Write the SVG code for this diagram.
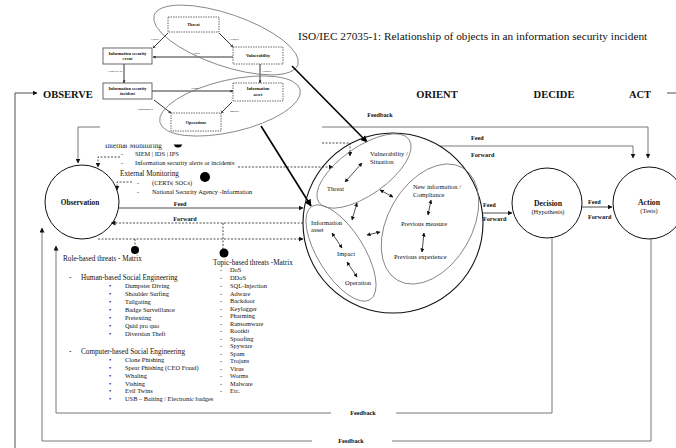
<svg xmlns="http://www.w3.org/2000/svg" width="676" height="448" viewBox="0 0 676 448">
<style>
text{font-family:"Liberation Serif","Times New Roman",serif;fill:#111}
.h{font-size:10.5px;font-weight:bold}
.b{font-weight:bold}
.ln{fill:none;stroke:#222;stroke-width:0.8}
.gl{fill:none;stroke:#555;stroke-width:0.8}
.ds{fill:none;stroke:#222;stroke-width:0.8;stroke-dasharray:2,1.5}
.th{fill:none;stroke:#000;stroke-width:1.6}
.el{fill:none;stroke:#777;stroke-width:0.8}
.bx{fill:#fff;stroke:#444;stroke-width:0.8}
.bxd{fill:#fff;stroke:#444;stroke-width:0.8;stroke-dasharray:1.5,1}
.il{fill:none;stroke:#333;stroke-width:1}
.t5{font-size:4.3px;font-weight:bold;text-anchor:middle}
.t3{font-size:2.8px}
.o{font-size:6.5px}
.m{font-size:7.2px}
.li{font-size:6.4px}
.lb{font-size:6.2px;font-weight:bold}
</style>
<defs>
<marker id="a" viewBox="0 0 10 10" refX="9" refY="5" markerWidth="5" markerHeight="5" markerUnits="userSpaceOnUse" orient="auto-start-reverse"><path d="M0,0L10,5L0,10z" fill="#111"/></marker>
<marker id="a2" viewBox="0 0 10 10" refX="9" refY="5" markerWidth="4" markerHeight="4" markerUnits="userSpaceOnUse" orient="auto-start-reverse"><path d="M0,0L10,5L0,10z" fill="#111"/></marker>
<marker id="ab" viewBox="0 0 10 10" refX="9" refY="5" markerWidth="7" markerHeight="7" markerUnits="userSpaceOnUse" orient="auto-start-reverse"><path d="M0,0L10,5L0,10z" fill="#000"/></marker>
<marker id="as" viewBox="0 0 10 10" refX="9" refY="5" markerWidth="3" markerHeight="3" markerUnits="userSpaceOnUse" orient="auto-start-reverse"><path d="M0,0L10,5L0,10z" fill="#333"/></marker>
</defs>
<rect width="676" height="448" fill="#fff"/>

<g id="headings">
<text class="h" x="43" y="97.5">OBSERVE</text>
<text class="h" x="437" y="97.5" text-anchor="middle">ORIENT</text>
<text class="h" x="554" y="97.5" text-anchor="middle">DECIDE</text>
<text class="h" x="640" y="97.5" text-anchor="middle">ACT</text>
</g>

<g id="connectors">
<path class="ln" d="M15,448V93H37" marker-end="url(#a)"/>
<path class="ln" d="M667,93H676"/>
<path class="gl" d="M78,163V127H648V158" marker-start="url(#a)" marker-end="url(#a)"/>
<path class="gl" d="M440,146H633V158" marker-end="url(#a)"/>
<path class="ln" d="M119,208H303" marker-end="url(#a)"/>
<path class="ds" d="M303,223H111" marker-end="url(#a)"/>
<path class="ds" d="M98,239H303" marker-end="url(#a)"/>
<path class="ds" d="M135,239V247"/>
<path class="ds" d="M223,223V249"/>
<path class="ds" d="M120,157H98V167" marker-end="url(#a)"/>
<path class="ds" d="M238,167H333" marker-end="url(#a)"/>
<path class="ds" d="M132,182H117V190" marker-end="url(#a)"/>
<path class="ln" d="M483,213H512" marker-end="url(#a)"/>
<path class="ln" d="M582,207H612" marker-end="url(#a)"/>
<path class="gl" d="M552,238V413H396"/>
<path class="gl" d="M331,413H56V246" marker-end="url(#a)"/>
<path class="gl" d="M651,239V441H392"/>
<path class="gl" d="M312,441H42V228" marker-end="url(#a)"/>
<text class="lb" x="363" y="415" text-anchor="middle">Feedback</text>
<text class="lb" x="351" y="443" text-anchor="middle">Feedback</text>
<text class="lb" x="380" y="117" text-anchor="middle">Feedback</text>
<text class="lb" x="471" y="140">Feed</text>
<text class="lb" x="471" y="157">Forward</text>
<text class="lb" x="180" y="206" text-anchor="middle">Feed</text>
<text class="lb" x="185" y="221" text-anchor="middle">Forward</text>
<text class="lb" x="483" y="207">Feed</text>
<text class="lb" x="483" y="221">Forward</text>
<text class="lb" x="588" y="204">Feed</text>
<text class="lb" x="588" y="219">Forward</text>
</g>

<g id="internal-monitoring">
<text class="m" x="105" y="148">Internal Monitoring</text>
<circle cx="178" cy="143" r="4.5" fill="#000"/>
<text class="li" x="121" y="155.5">-</text>
<text class="li" x="135" y="155.5">SIEM | IDS | IPS</text>
<text class="li" x="121" y="164.5">-</text>
<text class="li" x="135" y="164.5">Information security alerts or incidents</text>
</g>

<!-- white backdrop of the ISO figure -->
<rect x="100" y="0" width="222" height="144.5" fill="#fff"/>

<g id="iso-title">
<text x="298" y="39.5" style="font-size:11.3px">ISO/IEC 27035-1: Relationship of objects in an information security incident</text>
</g>

<g id="iso-connectors">
<path class="il" d="M168,33L153,48" marker-end="url(#as)"/>
<path class="il" d="M219,33L233,47" marker-end="url(#as)"/>
<path class="il" d="M233,57H153" marker-end="url(#as)"/>
<path class="il" d="M124,64V83" marker-end="url(#as)"/>
<path class="il" d="M260,64V83" marker-end="url(#as)"/>
<path class="il" d="M152,91H233" marker-end="url(#as)"/>
<path class="il" d="M154,100L171,113" marker-end="url(#as)"/>
<path class="il" d="M232,102L221,113" marker-end="url(#as)"/>
<text class="t3" x="155" y="40" text-anchor="middle">Causes</text>
<text class="t3" x="234" y="40" text-anchor="middle">Exploits</text>
<text class="t3" x="196" y="54" text-anchor="middle">Allows</text>
<text class="t3" x="122" y="72" text-anchor="end">Classified as</text>
<text class="t3" x="262" y="72">Exposes</text>
<text class="t3" x="195" y="88.5" text-anchor="middle">Harms</text>
<text class="t3" x="153" y="110" text-anchor="end">Compromises</text>
<text class="t3" x="230" y="112">Impacts</text>
</g>

<g id="iso-threat"><rect class="bxd" x="168" y="17" width="51" height="15"/><text class="t5" x="193.5" y="26">Threat</text></g>
<g id="iso-vulnerability"><rect class="bxd" x="233" y="47" width="50" height="17"/><text class="t5" x="258" y="57">Vulnerability</text></g>
<g id="iso-event"><rect class="bx" x="103" y="48" width="49" height="16"/><text class="t5" x="127.5" y="54.5">Information security</text><text class="t5" x="127.5" y="60">event</text></g>
<g id="iso-incident"><rect class="bx" x="103" y="83" width="49" height="16"/><text class="t5" x="127.5" y="89.5">Information security</text><text class="t5" x="127.5" y="95">incident</text></g>
<g id="iso-asset"><rect class="bxd" x="233" y="83" width="50" height="18"/><text class="t5" x="258" y="90">Information</text><text class="t5" x="258" y="95.5">asset</text></g>
<g id="iso-operations"><rect class="bxd" x="171" y="113" width="50" height="18"/><text class="t5" x="196" y="123.5">Operations</text></g>
<g id="iso-ellipses">
<ellipse class="el" cx="226" cy="40" rx="76" ry="26" transform="rotate(19 226 40)"/>
<ellipse class="el" cx="230" cy="106" rx="72" ry="26" transform="rotate(-13 230 106)"/>
</g>

<g id="thick-links">
<path class="th" d="M292,66L367,142" marker-end="url(#ab)"/>
<path class="th" d="M261,126L311,206" marker-end="url(#ab)"/>
</g>

<g id="internal-to-orient">
<path class="ds" d="M322,143H350V156" marker-end="url(#a)"/>
</g>

<g id="external-monitoring">
<text class="m" x="120" y="175.5">External Monitoring</text>
<circle cx="205" cy="177" r="5" fill="#000"/>
<text class="li" x="137" y="184.5">-</text>
<text class="li" x="152" y="184.5">(CERTs| SOCs)</text>
<text class="li" x="137" y="194">-</text>
<text class="li" x="152" y="194">National Security Agency -Information</text>
</g>

<g id="observation">
<circle cx="82" cy="202" r="37" fill="none" stroke="#111" stroke-width="1"/>
<text class="b" x="80" y="204.5" text-anchor="middle" style="font-size:7.3px">Observation</text>
</g>

<g id="orientation">
<circle cx="393" cy="223" r="90" fill="none" stroke="#111" stroke-width="1.1"/>
<ellipse class="el" cx="364" cy="171" rx="55" ry="24" transform="rotate(-35 364 171)"/>
<ellipse class="el" cx="341" cy="253" rx="55" ry="23" transform="rotate(58 341 253)"/>
<ellipse class="el" cx="430" cy="224" rx="65" ry="42" transform="rotate(-60 430 224)"/>
<text class="o" x="370" y="156">Vulnerability /</text>
<text class="o" x="370" y="163.5">Situation</text>
<text class="o" x="327" y="191">Threat</text>
<text class="o" x="311" y="225">Information</text>
<text class="o" x="311" y="231.5">asset</text>
<text class="o" x="337" y="256">Impact</text>
<text class="o" x="345" y="285">Operation</text>
<text class="o" x="413" y="189">New information /</text>
<text class="o" x="413" y="197">Compliance</text>
<text class="o" x="401" y="226">Previous measure</text>
<text class="o" x="394" y="259">Previous experience</text>
<path class="ln" d="M345,182L362,163" marker-start="url(#a2)" marker-end="url(#a2)"/>
<path class="ln" d="M380,190L393,197" marker-start="url(#a2)" marker-end="url(#a2)"/>
<path class="ln" d="M357,203L352,220" marker-start="url(#a2)" marker-end="url(#a2)"/>
<path class="ln" d="M367,235L380,232" marker-start="url(#a2)" marker-end="url(#a2)"/>
<path class="ln" d="M332,233L342,248" marker-start="url(#a2)" marker-end="url(#a2)"/>
<path class="ln" d="M347,262L357,277" marker-start="url(#a2)" marker-end="url(#a2)"/>
<path class="ln" d="M431,200L428,215" marker-start="url(#a2)" marker-end="url(#a2)"/>
<path class="ln" d="M424,233L422,252" marker-start="url(#a2)" marker-end="url(#a2)"/>
</g>

<g id="decision">
<circle cx="547" cy="203" r="35" fill="none" stroke="#111" stroke-width="1"/>
<text class="b" x="548" y="206" text-anchor="middle" style="font-size:7.8px">Decision</text>
<text x="548" y="214" text-anchor="middle" style="font-size:6.4px">(Hypothesis)</text>
</g>

<g id="action">
<circle cx="649" cy="203" r="36" fill="none" stroke="#111" stroke-width="1"/>
<text class="b" x="649" y="205" text-anchor="middle" style="font-size:7.8px">Action</text>
<text x="649" y="212.5" text-anchor="middle" style="font-size:6.4px">(Tests)</text>
</g>

<g id="role-based-threats">
<circle cx="135" cy="250" r="4" fill="#000"/>
<text class="m" x="63" y="261">Role-based threats - Matrix</text>
<text class="m" x="69" y="280">-</text>
<text class="m" x="81" y="280">Human-based Social Engineering</text>
<g class="li">
<text class="li" x="109" y="288">•</text><text class="li" x="125" y="288">Dumpster Diving</text>
<text class="li" x="109" y="296">•</text><text class="li" x="125" y="296">Shoulder Surfing</text>
<text class="li" x="109" y="304">•</text><text class="li" x="125" y="304">Tailgating</text>
<text class="li" x="109" y="312">•</text><text class="li" x="125" y="312">Badge Surveillance</text>
<text class="li" x="109" y="320">•</text><text class="li" x="125" y="320">Pretexting</text>
<text class="li" x="109" y="328">•</text><text class="li" x="125" y="328">Quid pro quo</text>
<text class="li" x="109" y="336">•</text><text class="li" x="125" y="336">Diversion Theft</text>
</g>
<text class="m" x="69" y="354">-</text>
<text class="m" x="81" y="354">Computer-based Social Engineering</text>
<text class="li" x="109" y="362">•</text><text class="li" x="125" y="362">Clone Phishing</text>
<text class="li" x="109" y="370">•</text><text class="li" x="125" y="370">Spear Phishing (CEO Fraud)</text>
<text class="li" x="109" y="378">•</text><text class="li" x="125" y="378">Whaling</text>
<text class="li" x="109" y="385.5">•</text><text class="li" x="125" y="385.5">Vishing</text>
<text class="li" x="109" y="393">•</text><text class="li" x="125" y="393">Evil Twins</text>
<text class="li" x="109" y="401">•</text><text class="li" x="125" y="401">USB – Baiting / Electronic badges</text>
</g>

<g id="topic-based-threats">
<circle cx="224" cy="253" r="4.5" fill="#000"/>
<text class="m" x="213" y="265">Topic-based threats -Matrix</text>
<text class="li" x="220" y="272">-</text><text class="li" x="230" y="272">DoS</text>
<text class="li" x="220" y="279.5">-</text><text class="li" x="230" y="279.5">DDoS</text>
<text class="li" x="220" y="288">-</text><text class="li" x="230" y="288">SQL-Injection</text>
<text class="li" x="220" y="295.5">-</text><text class="li" x="230" y="295.5">Adware</text>
<text class="li" x="220" y="303">-</text><text class="li" x="230" y="303">Backdoor</text>
<text class="li" x="220" y="310.5">-</text><text class="li" x="230" y="310.5">Keylogger</text>
<text class="li" x="220" y="318">-</text><text class="li" x="230" y="318">Pharming</text>
<text class="li" x="220" y="325.5">-</text><text class="li" x="230" y="325.5">Ransomware</text>
<text class="li" x="220" y="333">-</text><text class="li" x="230" y="333">Rootkit</text>
<text class="li" x="220" y="340.5">-</text><text class="li" x="230" y="340.5">Spoofing</text>
<text class="li" x="220" y="348">-</text><text class="li" x="230" y="348">Spyware</text>
<text class="li" x="220" y="355.5">-</text><text class="li" x="230" y="355.5">Spam</text>
<text class="li" x="220" y="363">-</text><text class="li" x="230" y="363">Trojans</text>
<text class="li" x="220" y="370.5">-</text><text class="li" x="230" y="370.5">Virus</text>
<text class="li" x="220" y="378">-</text><text class="li" x="230" y="378">Worms</text>
<text class="li" x="220" y="385.5">-</text><text class="li" x="230" y="385.5">Malware</text>
<text class="li" x="220" y="392.5">-</text><text class="li" x="230" y="392.5">Etc.</text>
</g>
</svg>
